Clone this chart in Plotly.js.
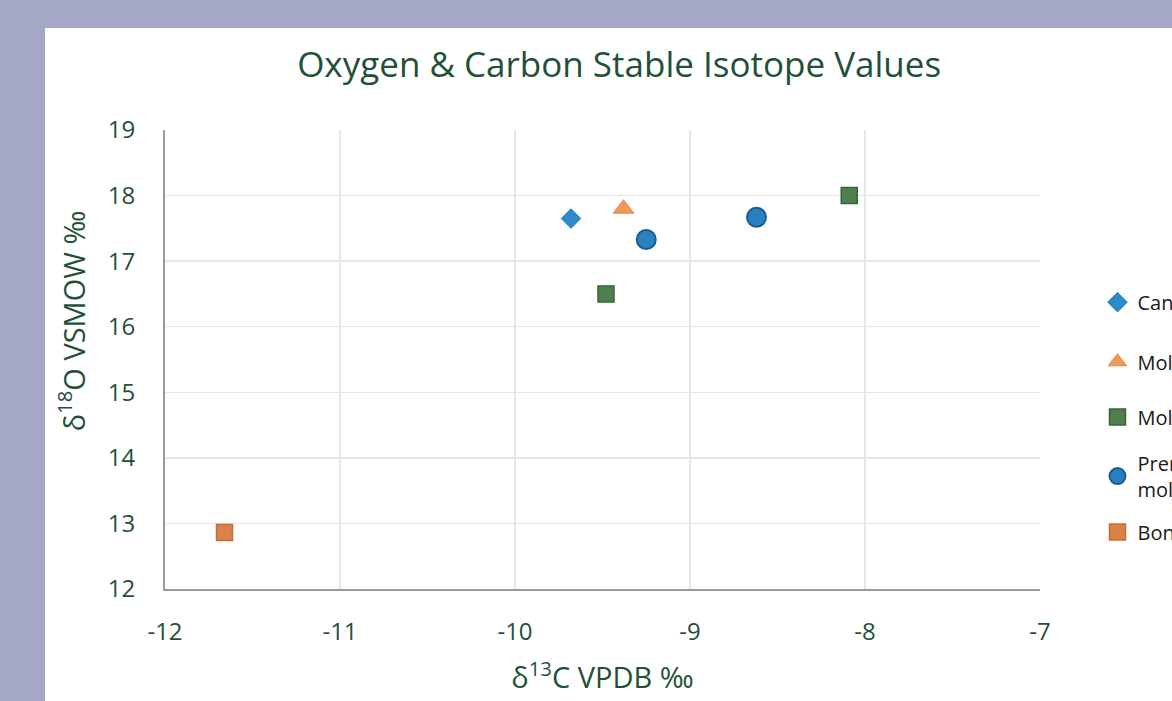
<!DOCTYPE html>
<html>
<head>
<meta charset="utf-8">
<script src="https://cdn.plot.ly/plotly-3.0.1.min.js"></script>
<style>
  html, body { margin: 0; padding: 0; width: 1172px; height: 701px; overflow: hidden; background: #a4a8c6; }
  #chart { position: absolute; left: 45px; top: 28px; width: 1260px; height: 673px; background: #ffffff; }
</style>
</head>
<body>
<div id="chart"></div>
<script>
// ---- data ----
const seriesNames = ["Canine", "Molar 1", "Molar 2", "Premolar/<br>molar", "Bone"];
const canineX = [-9.68];
const canineY = [17.65];
const molar1X = [-9.38];
const molar1Y = [17.80];
const molar2X = [-9.48, -8.09];
const molar2Y = [16.50, 18.00];
const premolarX = [-9.25, -8.62];
const premolarY = [17.33, 17.67];
const boneX = [-11.66];
const boneY = [12.86];
const xTicks = [-12, -11, -10, -9, -8, -7];
const yTicks = [12, 13, 14, 15, 16, 17, 18, 19];

const green = '#1f5138';
const font = "'Open Sans', 'Noto Sans', sans-serif";
const legendIds = ['legend', 'legend2', 'legend3', 'legend4', 'legend5'];
const legendY = [0.625, 0.495, 0.375, 0.246, 0.124];

function tr(i, x, y, symbol, size, color, lineColor, lw) {
  return {
    type: 'scatter', mode: 'markers', name: seriesNames[i], x: x, y: y,
    legend: legendIds[i],
    marker: { symbol: symbol, size: size, color: color, line: { color: lineColor, width: lw } },
    hoverinfo: 'x+y'
  };
}

const data = [
  tr(0, canineX, canineY, 'diamond', 15, '#2b8ccc', '#1f79b4', 1),
  tr(1, molar1X, molar1Y, 'triangle-up', 18, '#ee9a5c', '#e08a4c', 1),
  tr(2, molar2X, molar2Y, 'square', 16, '#4f7f4c', '#3a6438', 1.5),
  tr(3, premolarX, premolarY, 'circle', 19, '#2a7fc0', '#1b5d8e', 2),
  tr(4, boneX, boneY, 'square', 16, '#d9824a', '#c46d36', 1.5)
];

const layout = {
  width: 1260, height: 673,
  paper_bgcolor: '#ffffff', plot_bgcolor: '#ffffff',
  margin: { l: 120, r: 265, t: 102, b: 112 },
  font: { family: font, color: green },
  title: {
    text: 'Oxygen & Carbon Stable Isotope Values',
    font: { family: font, size: 35, color: green },
    xref: 'paper', x: 0.519, xanchor: 'center',
    yref: 'container', y: 0.945, yanchor: 'middle'
  },
  xaxis: {
    range: [-12, -7], tickvals: xTicks, ticktext: xTicks.map(String),
    showgrid: true, gridcolor: '#e6e6e6', gridwidth: 1.5,
    zeroline: false, showline: true, linecolor: '#9a9a9a', linewidth: 2,
    ticks: '', ticklabelstandoff: 20,
    tickfont: { family: font, size: 24, color: green },
    title: { text: 'δ<sup>13</sup>C VPDB ‰', font: { family: font, size: 29, color: green }, standoff: 22 },
    automargin: false
  },
  yaxis: {
    range: [12, 19], tickvals: yTicks, ticktext: yTicks.map(String),
    showgrid: true, gridcolor: '#e6e6e6', gridwidth: 1.5,
    zeroline: false, showline: true, linecolor: '#9a9a9a', linewidth: 2,
    ticks: '', ticklabelstandoff: 23,
    tickfont: { family: font, size: 24, color: green },
    automargin: false
  },
  annotations: [{
    text: 'δ<sup>18</sup>O VSMOW ‰', textangle: -90,
    xref: 'paper', yref: 'paper', x: -0.107, y: 0.584,
    xanchor: 'center', yanchor: 'middle', showarrow: false,
    font: { family: font, size: 29, color: green }
  }],
  showlegend: true
};

legendIds.forEach(function (id, i) {
  layout[id] = {
    x: 1.0657, y: legendY[i], xanchor: 'left', yanchor: 'middle',
    bgcolor: 'rgba(0,0,0,0)',
    font: { family: font, size: 20, color: '#1a1a1a' }
  };
});

Plotly.newPlot('chart', data, layout, { displayModeBar: false, staticPlot: true });
</script>
</body>
</html>
